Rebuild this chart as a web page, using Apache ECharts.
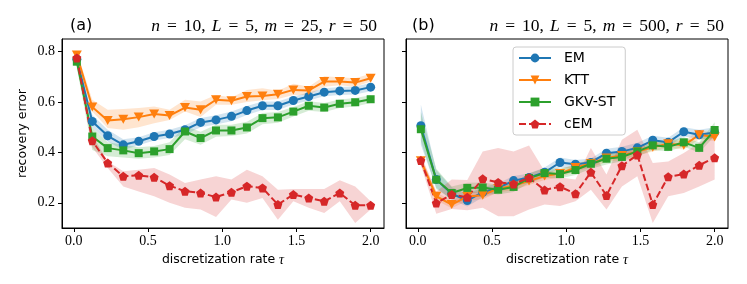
<!DOCTYPE html>
<html><head><meta charset="utf-8">
<script src="https://cdn.jsdelivr.net/npm/echarts@6/dist/echarts.min.js"></script>
<style>html,body{margin:0;padding:0;background:#fff}#c{width:747px;height:284px}</style>
</head><body><div id="c"></div>
<script>
// x positions (discretization rate tau)
const tau = [0.02,0.124,0.228,0.333,0.437,0.541,0.645,0.749,0.854,0.958,1.062,1.166,1.271,1.375,1.479,1.583,1.687,1.792,1.896,2.0];
const xTicks = [0, 0.5, 1.0, 1.5, 2.0];
const yTicks = [0.2, 0.4, 0.6, 0.8];
const methods = ['EM','KTT','GKV-ST','cEM'];

// panel (a): n=10, L=5, m=25, r=50
const a_EM     = [0.770,0.523,0.466,0.430,0.444,0.463,0.473,0.490,0.519,0.529,0.543,0.566,0.585,0.585,0.606,0.622,0.639,0.644,0.646,0.659];
const a_EM_lo  = [0.745,0.500,0.443,0.410,0.428,0.447,0.457,0.470,0.500,0.511,0.524,0.548,0.568,0.568,0.590,0.606,0.623,0.628,0.630,0.643];
const a_EM_hi  = [0.795,0.548,0.490,0.452,0.460,0.480,0.490,0.508,0.537,0.547,0.562,0.584,0.602,0.602,0.622,0.638,0.655,0.660,0.662,0.675];
const a_KTT    = [0.787,0.580,0.527,0.532,0.540,0.552,0.546,0.578,0.569,0.609,0.605,0.622,0.624,0.631,0.648,0.646,0.681,0.681,0.677,0.694];
const a_KTT_lo = [0.770,0.562,0.497,0.490,0.500,0.516,0.529,0.562,0.540,0.589,0.589,0.600,0.607,0.612,0.628,0.628,0.661,0.666,0.661,0.681];
const a_KTT_hi = [0.800,0.609,0.569,0.572,0.576,0.582,0.569,0.609,0.602,0.628,0.618,0.648,0.655,0.645,0.672,0.661,0.702,0.698,0.694,0.712];
const a_GKV    = [0.760,0.463,0.417,0.408,0.397,0.404,0.413,0.483,0.457,0.487,0.487,0.499,0.536,0.539,0.562,0.585,0.578,0.593,0.599,0.611];
const a_GKV_lo = [0.735,0.410,0.385,0.380,0.375,0.380,0.390,0.452,0.430,0.462,0.465,0.475,0.512,0.518,0.542,0.565,0.560,0.576,0.582,0.596];
const a_GKV_hi = [0.785,0.500,0.440,0.430,0.420,0.425,0.440,0.505,0.482,0.510,0.510,0.522,0.556,0.560,0.580,0.603,0.596,0.610,0.616,0.627];
const a_cEM    = [0.775,0.446,0.358,0.305,0.309,0.301,0.268,0.246,0.239,0.223,0.242,0.266,0.259,0.193,0.233,0.219,0.206,0.239,0.190,0.190];
const a_cEM_lo = [0.760,0.420,0.338,0.265,0.245,0.226,0.200,0.180,0.173,0.144,0.213,0.200,0.219,0.133,0.206,0.180,0.160,0.206,0.120,0.173];
const a_cEM_hi = [0.790,0.470,0.364,0.325,0.331,0.338,0.312,0.279,0.292,0.305,0.292,0.331,0.305,0.252,0.255,0.255,0.255,0.289,0.265,0.206];

// panel (b): n=10, L=5, m=500, r=50
const b_EM     = [0.506,0.292,0.236,0.209,0.242,0.259,0.288,0.300,0.321,0.360,0.353,0.360,0.397,0.404,0.418,0.448,0.440,0.482,0.470,0.479];
const b_EM_lo  = [0.430,0.260,0.212,0.185,0.222,0.240,0.270,0.280,0.303,0.340,0.334,0.340,0.380,0.386,0.402,0.430,0.422,0.464,0.452,0.455];
const b_EM_hi  = [0.590,0.330,0.262,0.235,0.262,0.278,0.306,0.316,0.340,0.380,0.370,0.376,0.414,0.422,0.438,0.466,0.458,0.500,0.490,0.500];
const b_KTT    = [0.367,0.226,0.193,0.225,0.230,0.257,0.267,0.287,0.306,0.316,0.340,0.356,0.378,0.388,0.403,0.420,0.434,0.428,0.470,0.461];
const b_KTT_lo = [0.350,0.210,0.178,0.208,0.214,0.241,0.251,0.271,0.290,0.300,0.324,0.340,0.362,0.372,0.387,0.404,0.418,0.412,0.452,0.445];
const b_KTT_hi = [0.385,0.242,0.208,0.241,0.246,0.273,0.283,0.303,0.322,0.332,0.356,0.372,0.394,0.404,0.419,0.436,0.450,0.444,0.488,0.477];
const b_GKV    = [0.492,0.292,0.239,0.259,0.261,0.252,0.263,0.298,0.318,0.314,0.330,0.355,0.375,0.382,0.404,0.428,0.422,0.440,0.418,0.489];
const b_GKV_lo = [0.445,0.255,0.215,0.238,0.241,0.233,0.243,0.279,0.299,0.296,0.310,0.335,0.352,0.365,0.385,0.409,0.405,0.422,0.400,0.465];
const b_GKV_hi = [0.560,0.335,0.265,0.280,0.281,0.272,0.280,0.317,0.337,0.336,0.348,0.373,0.390,0.403,0.423,0.447,0.443,0.460,0.440,0.520];
const b_cEM    = [0.368,0.199,0.233,0.222,0.295,0.281,0.275,0.299,0.251,0.264,0.236,0.321,0.229,0.347,0.390,0.193,0.303,0.314,0.349,0.379];
const b_cEM_lo = [0.350,0.157,0.175,0.170,0.180,0.147,0.147,0.173,0.193,0.187,0.206,0.252,0.173,0.265,0.305,0.120,0.226,0.239,0.265,0.292];
const b_cEM_hi = [0.390,0.245,0.292,0.290,0.404,0.417,0.404,0.427,0.325,0.300,0.292,0.417,0.312,0.450,0.490,0.358,0.364,0.398,0.437,0.477];

const colors = {'EM':'#1f77b4','KTT':'#ff7f0e','GKV-ST':'#2ca02c','cEM':'#d62728'};
const pentagon = 'path://M0,-1L0.951,-0.309L0.588,0.809L-0.588,0.809L-0.951,-0.309Z';
const symbols = {
  'EM':{symbol:'circle',symbolSize:9,symbolRotate:0},
  'KTT':{symbol:'triangle',symbolSize:[10,9],symbolRotate:180},
  'GKV-ST':{symbol:'rect',symbolSize:8,symbolRotate:0},
  'cEM':{symbol:pentagon,symbolSize:9,symbolRotate:0}
};

const panels = [
  {EM:[a_EM,a_EM_lo,a_EM_hi],KTT:[a_KTT,a_KTT_lo,a_KTT_hi],'GKV-ST':[a_GKV,a_GKV_lo,a_GKV_hi],cEM:[a_cEM,a_cEM_lo,a_cEM_hi]},
  {EM:[b_EM,b_EM_lo,b_EM_hi],KTT:[b_KTT,b_KTT_lo,b_KTT_hi],'GKV-ST':[b_GKV,b_GKV_lo,b_GKV_hi],cEM:[b_cEM,b_cEM_lo,b_cEM_hi]}
];

const series = [];
panels.forEach((p, pi) => {
  methods.forEach(m => {
    const [mean, lo, hi] = p[m];
    series.push({
      type:'custom', name:m+' band '+pi, xAxisIndex:pi, yAxisIndex:pi, silent:true, z:1,
      encode:{x:0,y:[1,2]},
      data: tau.map((x,i)=>[x,lo[i],hi[i]]),
      renderItem:(params, api)=>{
        if (params.dataIndex !== 0) return null;
        const pts = [];
        for (let i=0;i<tau.length;i++) pts.push(api.coord([tau[i], hi[i]]));
        for (let i=tau.length-1;i>=0;i--) pts.push(api.coord([tau[i], lo[i]]));
        return {type:'polygon', shape:{points:pts}, style:{fill:colors[m], opacity:0.2}};
      }
    });
  });
  methods.forEach(m => {
    const mean = p[m][0];
    series.push(Object.assign({
      type:'line', name:m, xAxisIndex:pi, yAxisIndex:pi, z:3,
      data: tau.map((x,i)=>[x,mean[i]]),
      lineStyle:{width:2, color:colors[m], type: m==='cEM' ? [7,3] : 'solid'},
      itemStyle:{color:colors[m], borderWidth:0},
      showAllSymbol:true
    }, symbols[m]));
  });
});

function xAxis(i){
  return {type:'value', gridIndex:i, min:-0.08, max:2.09,
    splitLine:{show:false},
    axisLine:{show:true, onZero:false, lineStyle:{color:'#000', width:1}},
    axisTick:{show:true, length:4, customValues:xTicks, lineStyle:{color:'#000', width:1}},
    axisLabel:{customValues:xTicks, formatter:v=>v.toFixed(1), fontFamily:'Liberation Serif', fontSize:14, color:'#000', margin:6},
    name:'discretization rate {t|τ}', nameLocation:'middle', nameGap:23,
    nameTextStyle:{fontFamily:'DejaVu Sans', fontSize:12.5, color:'#000',
      rich:{t:{fontFamily:'Liberation Serif', fontStyle:'italic', fontSize:14, color:'#000'}}}
  };
}
function yAxis(i){
  return {type:'value', gridIndex:i, min:0.1, max:0.85,
    splitLine:{show:false},
    axisLine:{show:true, onZero:false, lineStyle:{color:'#000', width:1}},
    axisTick:{show:true, length:4, customValues:yTicks, lineStyle:{color:'#000', width:1}},
    axisLabel:{show:i===0, customValues:yTicks, formatter:v=>v.toFixed(1), fontFamily:'Liberation Serif', fontSize:14, color:'#000', margin:7},
    name: i===0 ? 'recovery error' : '', nameLocation:'middle', nameGap:33,
    nameTextStyle:{fontFamily:'DejaVu Sans', fontSize:12.5, color:'#000'}
  };
}

// math-style title: [isVariable, text]; '=' gets TeX-like spacing, ',' gets a thin space after
function mathTitle(parts){
  return parts.map(p => {
    if (p[0] === 1) return '{i|'+p[1]+'}';
    if (p[0] === 2) return '{e|'+p[1]+'}';
    if (p[0] === 3) return '{c|'+p[1]+'}';
    return '{r|'+p[1]+'}';
  }).join('');
}
const FS = 17.5;
const richMath = {
  i:{fontFamily:'Liberation Serif', fontStyle:'italic', fontSize:FS, color:'#000'},
  r:{fontFamily:'Liberation Serif', fontSize:FS, color:'#000'},
  e:{fontFamily:'Liberation Serif', fontSize:FS, color:'#000', padding:[0,7,0,7]},
  c:{fontFamily:'Liberation Serif', fontSize:FS, color:'#000', padding:[0,6,0,0]}
};
const titleA = mathTitle([[1,'n'],[2,'='],[0,'10'],[3,','],[1,'L'],[2,'='],[0,'5'],[3,','],[1,'m'],[2,'='],[0,'25'],[3,','],[1,'r'],[2,'='],[0,'50']]);
const titleB = mathTitle([[1,'n'],[2,'='],[0,'10'],[3,','],[1,'L'],[2,'='],[0,'5'],[3,','],[1,'m'],[2,'='],[0,'500'],[3,','],[1,'r'],[2,'='],[0,'50']]);

const chart = echarts.init(document.getElementById('c'), null, {renderer:'canvas'});
chart.setOption({
  animation:false,
  backgroundColor:'#fff',
  grid:[
    {left:62, top:39, width:322, height:189, show:true, borderColor:'#000', borderWidth:1, backgroundColor:'transparent', containLabel:false},
    {left:406, top:39, width:322, height:189, show:true, borderColor:'#000', borderWidth:1, backgroundColor:'transparent', containLabel:false}
  ],
  xAxis:[xAxis(0), xAxis(1)],
  yAxis:[yAxis(0), yAxis(1)],
  legend:{
    data:methods, orient:'vertical', left:513, top:47,
    itemWidth:32, itemHeight:11, itemGap:8,
    padding:[4,10,4,5],
    borderColor:'#ccc', borderWidth:1, borderRadius:3,
    backgroundColor:'rgba(255,255,255,0.8)',
    textStyle:{fontFamily:'DejaVu Sans', fontSize:14, color:'#000', padding:[0,0,0,8]}
  },
  graphic:[
    {type:'text', left:70, top:18, style:{text:'(a)', font:'16px "DejaVu Sans"', fill:'#000'}},
    {type:'text', left:412, top:18, style:{text:'(b)', font:'16px "DejaVu Sans"', fill:'#000'}},
    {type:'text', right:747-377, top:17, style:{text:titleA, rich:richMath, fill:'#000'}},
    {type:'text', right:747-724, top:17, style:{text:titleB, rich:richMath, fill:'#000'}}
  ],
  series:series
});
</script>
</body></html>
